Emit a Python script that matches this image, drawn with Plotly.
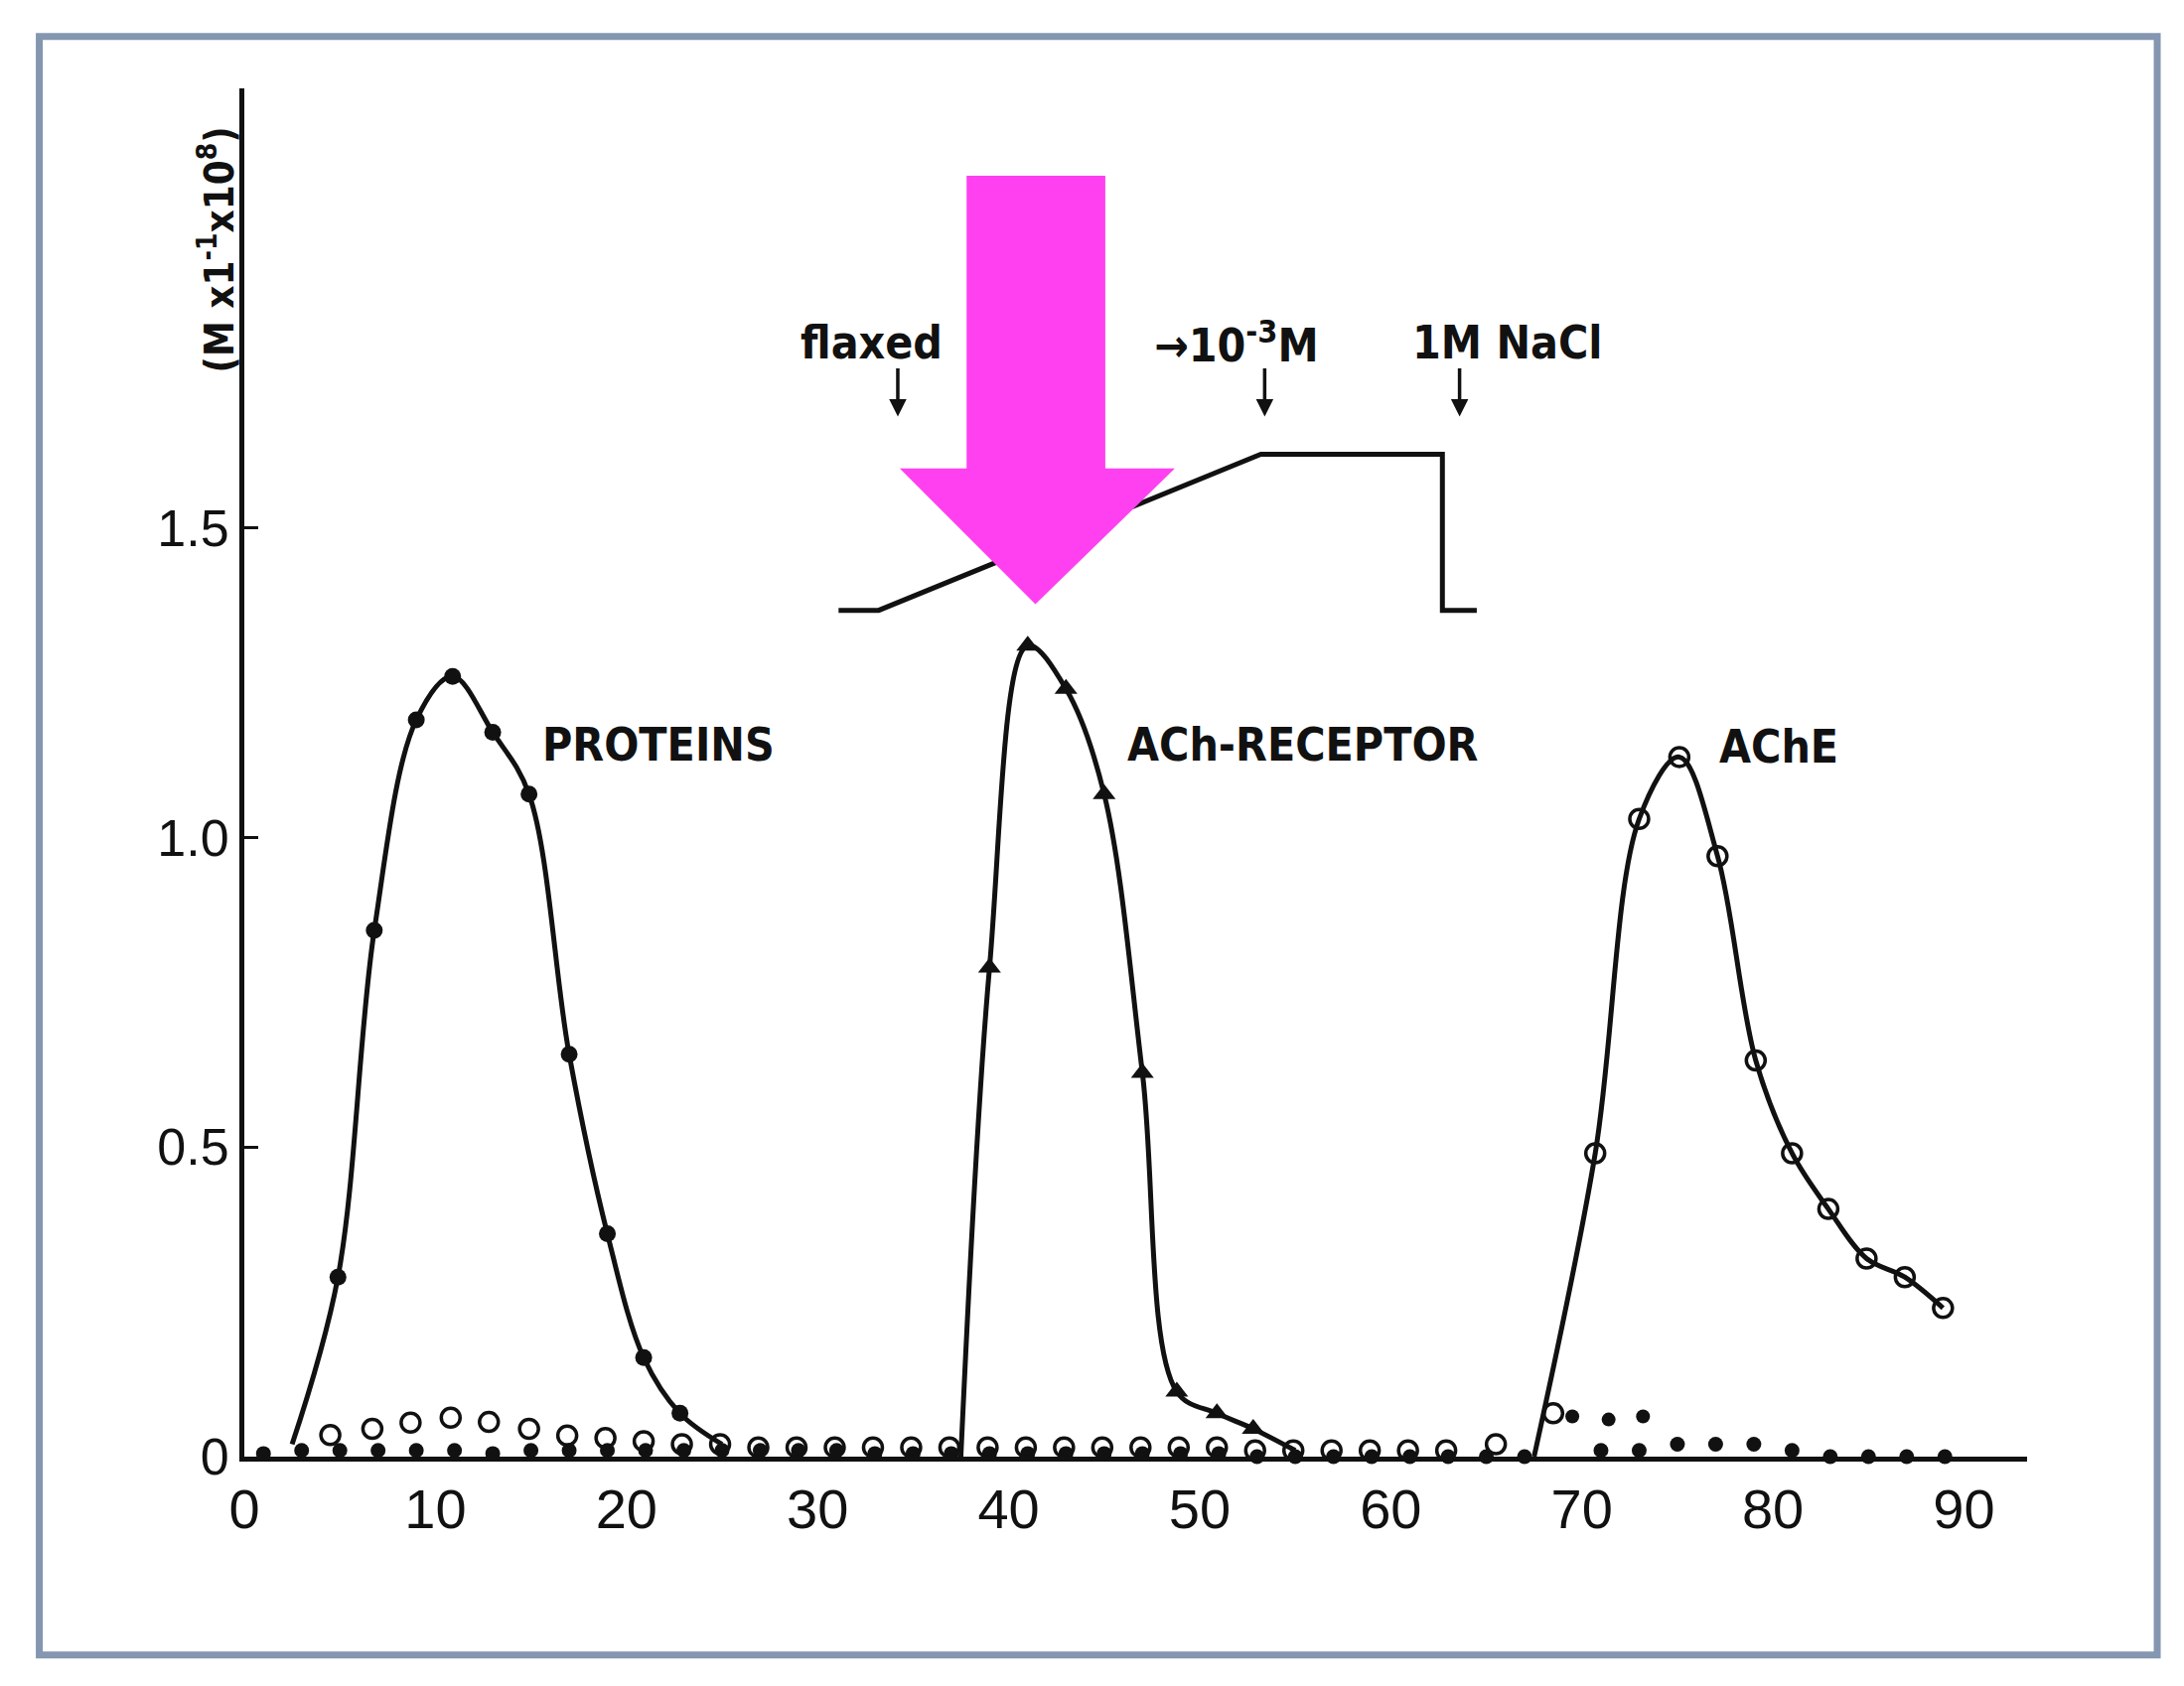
import plotly.graph_objects as go

# fraction number (x) and activity values
prot_x = [2.5, 4.9, 6.8, 9.0, 10.9, 13.0, 14.9, 17.0, 19.0, 20.9, 22.8, 25.0]
prot_y = [0.02, 0.29, 0.85, 1.19, 1.26, 1.17, 1.07, 0.65, 0.36, 0.16, 0.07, 0.02]
base_x = [1, 3, 5, 7, 9, 11, 13, 15, 17, 19, 21, 23, 25, 27, 29, 31, 33, 35, 37, 39, 41, 43, 45,
          47, 49, 51, 53, 55, 57, 59, 61, 63, 65, 67, 71, 73, 75, 77, 79, 81, 83, 85, 87, 89]
base_y = [0.005, 0.01, 0.01, 0.01, 0.01, 0.01, 0.005, 0.01, 0.01, 0.01, 0.01, 0.01, 0.01, 0.01,
          0.01, 0.01, 0.005, 0.005, 0.005, 0.005, 0.005, 0.005, 0.005, 0.005, 0.005, 0.005,
          0.0, 0.0, 0.0, 0.0, 0.0, 0.0, 0.0, 0.0, 0.01, 0.01, 0.02, 0.02, 0.02, 0.01, 0.0, 0.0, 0.0, 0.0]
dots_x = [69.5, 71.4, 73.2]
dots_y = [0.065, 0.06, 0.065]

rec_x = [37.5, 39.0, 41.0, 43.0, 45.0, 47.0, 48.8, 50.9, 52.8, 55.0]
rec_y = [0.0, 0.79, 1.31, 1.24, 1.07, 0.62, 0.105, 0.07, 0.045, 0.01]

ache_x = [4.5, 6.7, 8.7, 10.8, 12.8, 14.9, 16.9, 18.9, 20.9, 22.9, 24.9, 26.9, 28.9, 30.9,
          32.9, 34.9, 36.9, 38.9, 40.9, 42.9, 44.9, 46.9, 48.9, 50.9, 52.9, 54.9, 56.9, 58.9,
          60.9, 62.9, 65.5, 68.5, 70.7, 73.0, 75.1, 77.1, 79.1, 81.0, 82.9, 84.9, 86.9, 88.9]
ache_y = [0.035, 0.045, 0.055, 0.063, 0.056, 0.045, 0.034, 0.03, 0.025, 0.02, 0.02, 0.015,
          0.015, 0.015, 0.015, 0.015, 0.015, 0.015, 0.015, 0.015, 0.015, 0.015, 0.015, 0.015,
          0.01, 0.01, 0.01, 0.01, 0.01, 0.01, 0.02, 0.07, 0.49, 1.03, 1.13, 0.97, 0.64, 0.49,
          0.40, 0.32, 0.29, 0.24]
ache_curve_x = [67.5, 70.7, 73.0, 75.1, 77.1, 79.1, 81.0, 82.9, 84.9, 86.9, 88.9]
ache_curve_y = [0.0, 0.49, 1.03, 1.13, 0.97, 0.64, 0.49, 0.40, 0.32, 0.29, 0.24]

grad_x = [31.1, 33.2, 53.2, 62.7, 62.7, 64.5]
grad_y = [1.367, 1.367, 1.619, 1.619, 1.367, 1.367]

ink = "#111111"
fig = go.Figure()
for cx, cy in [(prot_x, prot_y), (rec_x, rec_y), (ache_curve_x, ache_curve_y)]:
    fig.add_scatter(x=cx, y=cy, mode="lines", line=dict(color=ink, width=5, shape="spline", smoothing=1.0))
fig.add_scatter(x=grad_x, y=grad_y, mode="lines", line=dict(color=ink, width=5))
fig.add_scatter(x=base_x, y=base_y, mode="markers", cliponaxis=False,
                marker=dict(symbol="circle", size=15, color=ink))
fig.add_scatter(x=prot_x[1:-1], y=prot_y[1:-1], mode="markers",
                marker=dict(symbol="circle", size=17, color=ink))
fig.add_scatter(x=dots_x, y=dots_y, mode="markers", marker=dict(symbol="circle", size=14, color=ink))
fig.add_scatter(x=rec_x[1:-1], y=rec_y[1:-1], mode="markers",
                marker=dict(symbol="triangle-up", size=20, color=ink))
fig.add_scatter(x=ache_x, y=ache_y, mode="markers", cliponaxis=False,
                marker=dict(symbol="circle-open", size=19, color=ink, line=dict(width=3.5)))

font = dict(family="DejaVu Sans Condensed, DejaVu Sans", color=ink)
ann = [
    dict(x=15.5, y=1.15, text="<b>PROTEINS</b>", xanchor="left"),
    dict(x=46.1, y=1.15, text="<b>ACh-RECEPTOR</b>", xanchor="left"),
    dict(x=77.1, y=1.147, text="<b>AChE</b>", xanchor="left"),
    dict(x=29.0, y=1.8, text="<b>flaxed</b>", xanchor="left"),
    dict(x=47.5, y=1.8, text="<b>→10<sup>-3</sup>M</b>", xanchor="left"),
    dict(x=61.0, y=1.8, text="<b>1M NaCl</b>", xanchor="left"),
]
annotations = [dict(a, showarrow=False, xref="x", yref="y", yanchor="middle",
                    font=dict(font, size=46)) for a in ann]
for xa in [34.2, 53.4, 63.6]:
    annotations.append(dict(x=xa, y=1.68, ax=xa, ay=1.76, axref="x", ayref="y", xref="x", yref="y",
                            showarrow=True, arrowhead=2, arrowsize=1, arrowwidth=3.5, arrowcolor=ink, text=""))
annotations.append(dict(x=-0.031, y=1.95, xref="paper", yref="y",
                        text="<b>(M x1<sup>-1</sup>x10<sup>8</sup>)</b>",
                        textangle=-90, showarrow=False, font=dict(font, size=40)))

shapes = [
    dict(type="rect", xref="paper", yref="paper", x0=-0.115, x1=1.073, y0=-0.145, y1=1.038,
         line=dict(color="#8496b0", width=7), layer="below"),
    dict(type="path", xref="x", yref="y", fillcolor="#ff40f0", line=dict(width=0), layer="above",
         path="M 37.8 2.069 L 45.06 2.069 L 45.06 1.596 L 48.7 1.596 L 41.4 1.377 "
              "L 34.3 1.596 L 37.8 1.596 Z"),
]

fig.update_layout(
    width=2199, height=1698, showlegend=False, plot_bgcolor="white", paper_bgcolor="white",
    margin=dict(l=238, r=166, t=81, b=239),
    xaxis=dict(range=[0, 93.3], tickvals=[0, 10, 20, 30, 40, 50, 60, 70, 80, 90], showgrid=False,
               zeroline=False, showline=True, linecolor=ink, linewidth=5, ticks="",
               tickfont=dict(family="Liberation Sans Narrow, Liberation Sans", size=56, color=ink)),
    yaxis=dict(range=[0, 2.21], tickvals=[0, 0.5, 1.0, 1.5], ticktext=["0", "0.5", "1.0", "1.5"],
               showgrid=False, zeroline=False, showline=True, linecolor=ink, linewidth=5,
               ticks="inside", ticklen=14, tickwidth=3, tickcolor=ink,
               tickfont=dict(family="Liberation Sans Narrow, Liberation Sans", size=52, color=ink)),
    annotations=annotations, shapes=shapes,
)
fig.write_html("out.html")
